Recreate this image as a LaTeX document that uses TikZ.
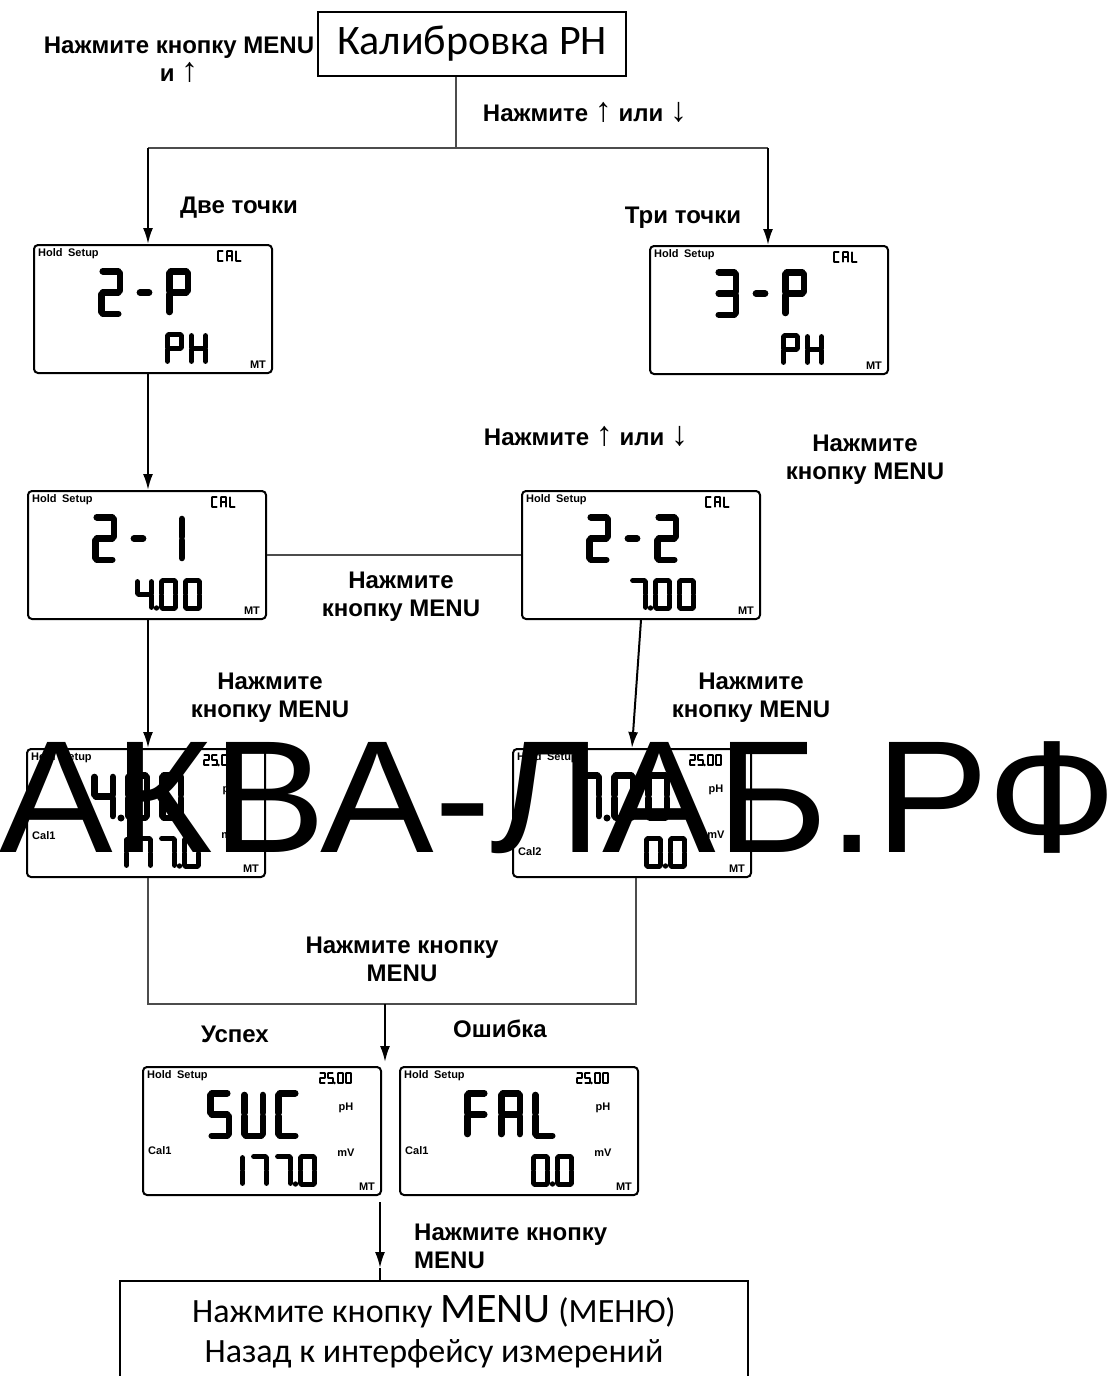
\documentclass[tikz,border=0pt]{standalone}
\usepackage{fontspec}
\setmainfont{Liberation Sans}
\newfontfamily\calfont{Carlito}
\usetikzlibrary{arrows.meta,positioning,calc}

% seven segment pieces in a unit cell (x 0..1, y 0..1)
\expandafter\def\csname lcdseg@a\endcsname{(0.08,1) -- (0.92,1)}
\expandafter\def\csname lcdseg@b\endcsname{(1,0.96) -- (1,0.54)}
\expandafter\def\csname lcdseg@c\endcsname{(1,0.46) -- (1,0.04)}
\expandafter\def\csname lcdseg@d\endcsname{(0.08,0) -- (0.92,0)}
\expandafter\def\csname lcdseg@e\endcsname{(0,0.46) -- (0,0.04)}
\expandafter\def\csname lcdseg@f\endcsname{(0,0.96) -- (0,0.54)}
\expandafter\def\csname lcdseg@g\endcsname{(0.08,0.5) -- (0.92,0.5)}
\expandafter\def\csname lcdseg@m\endcsname{(0.25,0.5) -- (0.75,0.5)}

\newcommand\lcddef[2]{\expandafter\def\csname lcd@#1\endcsname{#2}}
\lcddef{0}{a,b,c,d,e,f}
\lcddef{1}{b,c}
\lcddef{2}{a,b,g,e,d}
\lcddef{3}{a,b,g,c,d}
\lcddef{4}{f,g,b,c}
\lcddef{5}{a,f,g,c,d}
\lcddef{7}{a,b,c}
\lcddef{-}{m}
\lcddef{P}{a,b,f,g,e}
\lcddef{H}{f,e,g,b,c}
\lcddef{C}{a,f,e,d}
\lcddef{A}{a,b,c,e,f,g}
\lcddef{L}{f,e,d}
\lcddef{S}{a,f,g,c,d}
\lcddef{U}{f,e,d,b,c}
\lcddef{F}{a,f,g,e}

% one character: x, y (top left), width, height, stroke, character
\newcommand\lcdchar[6]{%
  \pgfmathsetmacro\lcdw{#3-#5}%
  \pgfmathsetmacro\lcdh{#4-#5}%
  \begin{scope}[shift={(#1+#5/2,#2+#4-#5/2)}, x=\lcdw pt, y=\lcdh pt]
    \edef\lcdsegs{\csname lcd@#6\endcsname}%
    \foreach \s in \lcdsegs {\draw[lcdseg, line width=#5pt] \csname lcdseg@\s\endcsname;}
  \end{scope}}
\newcommand\lcdbig[1]{\foreach \k/\ch in {#1} {\lcdchar{65+34*\k}{24}{25}{49}{6.5}{\ch}}}
\newcommand\lcdsmall[1]{\foreach \k/\ch in {#1} {\lcdchar{84+24*\k}{88}{19}{33}{5}{\ch}}}
\newcommand\lcdtiny[1]{\foreach \k/\ch in {#1} {\lcdchar{\k}{6}{7}{12}{2}{\ch}}}
\newcommand\arrup{{\mdseries\fontsize{34}{28}\selectfont ↑}}
\newcommand\arrdown{{\mdseries\fontsize{34}{28}\selectfont ↓}}

\begin{document}
\begin{tikzpicture}[x=1pt, y=-1pt,
    lcdbox/.style={draw, line width=2pt, rounded corners=4pt, minimum width=238pt, minimum height=128pt, inner sep=0pt},
    lcdtext/.style={font=\bfseries\fontsize{11}{11}\selectfont, inner sep=0pt},
    lcdseg/.style={line cap=round, line join=round},
    lbl/.style={font=\bfseries\fontsize{24}{28}\selectfont, align=center, inner sep=0pt},
    titlebox/.style={draw, line width=2pt, inner sep=0pt, align=center},
    link/.style={draw=black!70, line width=1.5pt},
    arrow/.style={draw=black, line width=2pt, -{Latex[length=16pt, width=10pt]}},
    watermark/.style={font=\fontsize{160}{160}\selectfont, inner sep=0pt}]
  \useasboundingbox (0,0) rectangle (1119,1376);

  % Boxes
  \node[titlebox, minimum width=308pt, minimum height=64pt, font=\calfont\fontsize{42}{48}\selectfont] (title) at (472,44) {Калибровка PH};
  \node[titlebox, anchor=north, minimum width=628pt, minimum height=102pt, font=\calfont\fontsize{34}{40}\selectfont] (back) at (434,1280)
    {Нажмите кнопку {\fontsize{42}{40}\selectfont MENU} (МЕНЮ)\\Назад к интерфейсу измерений};

  % Displays
  \foreach \disp/\x/\y in {twoP/33/244, threeP/649/245, twoOne/27/490, twoTwo/521/490,
      calA/26/748, calB/512/748, suc/142/1066, fal/399/1066} {
    \node[lcdbox, anchor=north west] (\disp) at (\x,\y) {};
    \node[lcdtext, anchor=west] (\disp-hold) at ($(\disp.north west)+(5,10)$) {Hold\enspace Setup};
    \node[lcdtext] (\disp-mt) at ($(\disp.north west)+(225,121)$) {MT};
  }
  \foreach \disp in {twoP,threeP,twoOne,twoTwo} {
    \begin{scope}[shift={(\disp.north west)}]
      \lcdtiny{184/C,193/A,202/L}
    \end{scope}
  }
  \foreach \disp/\calname/\cy in {calA/Cal1/88, calB/Cal2/104, suc/Cal1/85, fal/Cal1/85} {
    \begin{scope}[shift={(\disp.north west)}]
      \lcdtiny{177/2,185/5,195/0,203/0}
      \fill (192.5,17) circle[radius=1.4pt];
    \end{scope}
    \node[lcdtext] (\disp-ph) at ($(\disp.north west)+(204,42)$) {pH};
    \node[lcdtext] (\disp-mv) at ($(\disp.north west)+(204,87)$) {mV};
    \node[lcdtext, anchor=west] (\disp-cal) at ($(\disp.north west)+(6,\cy)$) {\calname};
  }

  % Readings
  \begin{scope}[shift={(twoP.north west)}]
    \lcdbig{0/2,1/-,2/P} \lcdsmall{2/P,3/H}
  \end{scope}
  \begin{scope}[shift={(threeP.north west)}]
    \lcdbig{0/3,1/-,2/P} \lcdsmall{2/P,3/H}
  \end{scope}
  \begin{scope}[shift={(twoOne.north west)}]
    \lcdbig{0/2,1/-,2/1} \lcdsmall{1/4,2/0,3/0}
    \fill (129.5,118) circle[radius=2.7pt];
  \end{scope}
  \begin{scope}[shift={(twoTwo.north west)}]
    \lcdbig{0/2,1/-,2/2} \lcdsmall{1/7,2/0,3/0}
    \fill (129.5,118) circle[radius=2.7pt];
  \end{scope}
  \begin{scope}[shift={(calA.north west)}]
    \lcdbig{0/4,1/0,2/0} \lcdsmall{0/1,1/7,2/7,3/0}
    \fill (95,70) circle[radius=3.5pt];
    \fill (153.5,118) circle[radius=2.7pt];
  \end{scope}
  \begin{scope}[shift={(calB.north west)}]
    \lcdbig{0/7,1/0,2/0} \lcdsmall{2/0,3/0}
    \fill (95,70) circle[radius=3.5pt];
    \fill (153.5,118) circle[radius=2.7pt];
  \end{scope}
  \begin{scope}[shift={(suc.north west)}]
    \lcdbig{0/S,1/U,2/C} \lcdsmall{0/1,1/7,2/7,3/0}
    \fill (153.5,118) circle[radius=2.7pt];
  \end{scope}
  \begin{scope}[shift={(fal.north west)}]
    \lcdbig{0/F,1/A,2/L} \lcdsmall{2/0,3/0}
    \fill (153.5,118) circle[radius=2.7pt];
  \end{scope}

  % Labels
  \node[lbl] (enter) at (179,60) {Нажмите кнопку MENU\\и \arrup};
  \node[lbl] (choose) at (585,112) {Нажмите \arrup{} или \arrdown};
  \node[lbl] (two) at (239,208) {Две точки};
  \node[lbl] (three) at (683,218) {Три точки};
  \node[lbl] (swap) at (586,436) {Нажмите \arrup{} или \arrdown};
  \node[lbl] (menuR) at (865,460) {Нажмите\\кнопку MENU};
  \node[lbl] (menuM) at (401,597) {Нажмите\\кнопку MENU};
  \node[lbl] (menuA) at (270,698) {Нажмите\\кнопку MENU};
  \node[lbl] (menuB) at (751,698) {Нажмите\\кнопку MENU};
  \node[lbl] (menuC) at (402,959) {Нажмите кнопку\\MENU};
  \node[lbl] (ok) at (235,1034) {Успех};
  \node[lbl] (err) at (500,1029) {Ошибка};
  \node[lbl, align=left, anchor=west] (menuD) at (414,1246) {Нажмите кнопку\\MENU};

  % Connectors
  \coordinate (splitC) at (456,148);
  \coordinate (splitL) at (148,148);
  \coordinate (splitR) at (768,148);
  \coordinate (joinL) at (148,1004);
  \coordinate (joinC) at (385,1004);
  \coordinate (joinR) at (636,1004);
  \coordinate (resIn) at (385,1062);
  \coordinate (resOut) at (380,1202);
  \coordinate (backIn) at (380,1268);
  \draw[link] (splitC |- title.south) -- (splitC);
  \draw[link] (splitL) -- (splitR);
  \draw[arrow] (splitL) -- (splitL |- twoP.north);
  \draw[arrow] (splitR) -- (splitR |- threeP.north);
  \draw[arrow] (splitL |- twoP.south) -- (splitL |- twoOne.north);
  \draw[link] (twoOne.east) -- (twoTwo.west);
  \draw[arrow] (splitL |- twoOne.south) -- (splitL |- calA.north);
  \draw[arrow] (twoTwo.south) -- (calB.north);
  \draw[link] (calA.south -| joinL) -- (joinL) -- (joinR) -- (calB.south -| joinR);
  \draw[arrow] (joinC) -- (resIn);
  \draw[arrow] (resOut) -- (backIn);
  \draw[line width=2pt] (backIn) -- (backIn |- back.north);

  % Watermark
  \node[watermark, anchor=base, xscale=1.065] (mark) at (558,852) {АКВА-ЛАБ.РФ};
\end{tikzpicture}
\end{document}
